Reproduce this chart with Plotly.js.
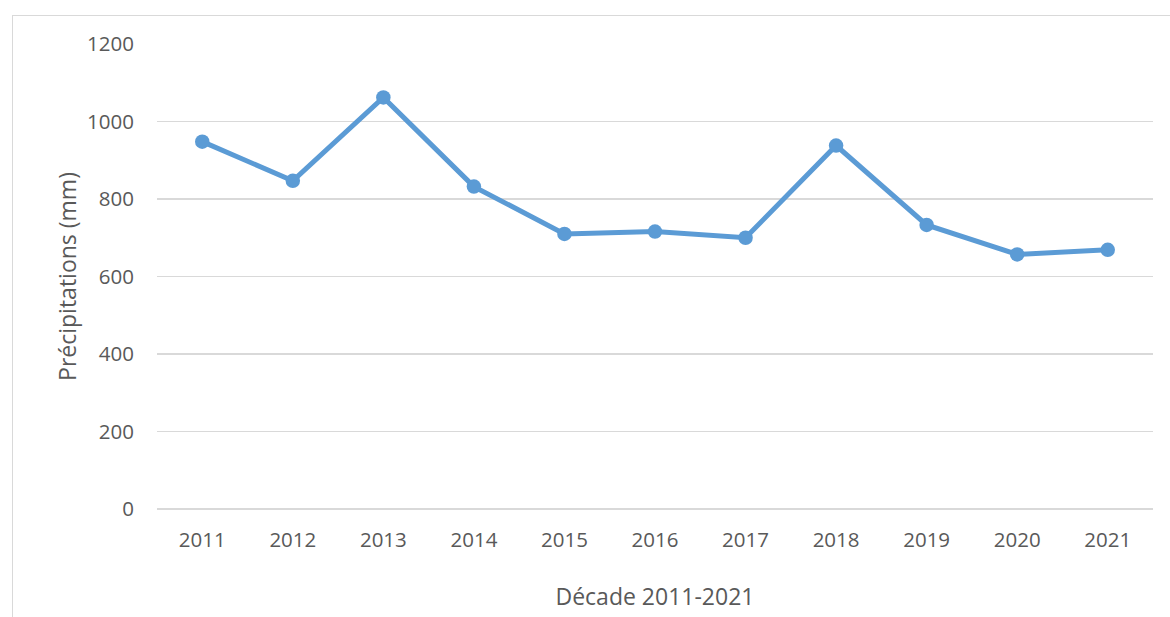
<!DOCTYPE html>
<html>
<head>
<meta charset="utf-8">
<script src="https://cdn.plot.ly/plotly-3.0.1.min.js"></script>
<style>
  html, body { margin: 0; padding: 0; background: #ffffff; }
  #wrap { position: relative; width: 1170px; height: 617px; overflow: hidden; }
  #frame { position: absolute; left: 12px; top: 15px; width: 1200px; height: 700px; border: 1.5px solid #d9d9d9; box-sizing: border-box; }
  #chart { position: absolute; left: 0; top: 0; width: 1170px; height: 617px; }
</style>
</head>
<body>
<div id="wrap">
  <div id="frame"></div>
  <div id="chart"></div>
</div>
<script>
const years = ['2011','2012','2013','2014','2015','2016','2017','2018','2019','2020','2021'];
const precipitation = [948, 847, 1062, 832, 710, 716, 700, 938, 733, 657, 669];
const yTicks = [0, 200, 400, 600, 800, 1000, 1200];
const xTitle = 'Décade 2011-2021';
const yTitle = 'Précipitations (mm)';

const fontFam = '"Open Sans", "Noto Sans", "Liberation Sans", sans-serif';

const trace = {
  x: years,
  y: precipitation,
  type: 'scatter',
  mode: 'lines+markers',
  line: { color: '#5b9bd5', width: 5 },
  marker: { color: '#5b9bd5', size: 14.5 },
  hoverinfo: 'x+y'
};

const layout = {
  width: 1170,
  height: 617,
  margin: { l: 157, r: 17, t: 44, b: 108 },
  paper_bgcolor: 'rgba(0,0,0,0)',
  plot_bgcolor: 'rgba(0,0,0,0)',
  showlegend: false,
  font: { family: fontFam, size: 20.5, color: '#595959' },
  xaxis: {
    type: 'category',
    range: [-0.5, 10.5],
    showgrid: false,
    zeroline: false,
    showline: false,
    ticks: '',
    ticklabelstandoff: 16,
    tickfont: { family: fontFam, size: 20.5, color: '#595959' },
    title: { text: xTitle, font: { family: fontFam, size: 23, color: '#595959' }, standoff: 37 }
  },
  yaxis: {
    range: [0, 1200],
    tickvals: yTicks,
    ticktext: yTicks.map(String),
    showgrid: true,
    gridcolor: '#d9d9d9',
    gridwidth: 1.5,
    zeroline: true,
    zerolinecolor: '#d9d9d9',
    zerolinewidth: 1.5,
    showline: false,
    ticks: '',
    ticklabelstandoff: 22,
    tickfont: { family: fontFam, size: 20.5, color: '#595959' },
    title: { text: yTitle, font: { family: fontFam, size: 23, color: '#595959' }, standoff: 4 }
  }
};

Plotly.newPlot('chart', [trace], layout, { displayModeBar: false, staticPlot: true });
</script>
</body>
</html>
